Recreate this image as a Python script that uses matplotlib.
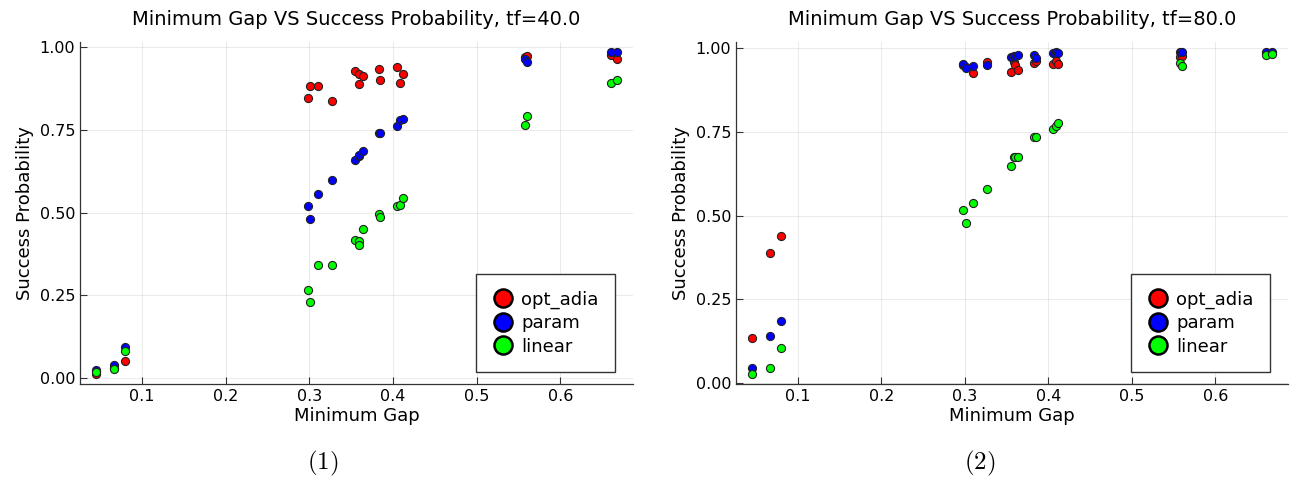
import numpy as np
import matplotlib
matplotlib.use("Agg")
import matplotlib.pyplot as plt
from matplotlib.lines import Line2D

plt.rcParams['mathtext.fontset'] = 'cm'

# minimum gap of each instance (same instances in both runs)
gaps = [0.045, 0.067, 0.080, 0.298, 0.301, 0.310, 0.327, 0.355, 0.359, 0.360,
        0.364, 0.383, 0.385, 0.405, 0.409, 0.412, 0.558, 0.560, 0.661, 0.668]

# tf = 40.0
opt_adia_40 = [0.012, 0.030, 0.052, 0.844, 0.880, 0.880, 0.837, 0.926, 0.917, 0.886,
               0.913, 0.934, 0.900, 0.939, 0.889, 0.917, 0.968, 0.973, 0.974, 0.964]
param_40 = [0.025, 0.039, 0.095, 0.520, 0.480, 0.557, 0.597, 0.657, 0.670, 0.672,
            0.686, 0.740, 0.740, 0.760, 0.779, 0.782, 0.963, 0.953, 0.983, 0.985]
linear_40 = [0.020, 0.028, 0.081, 0.266, 0.229, 0.342, 0.342, 0.416, 0.413, 0.403,
             0.449, 0.494, 0.486, 0.521, 0.523, 0.545, 0.765, 0.790, 0.889, 0.898]

# tf = 80.0
opt_adia_80 = [0.135, 0.387, 0.438, 0.950, 0.945, 0.925, 0.959, 0.930, 0.958, 0.950,
               0.935, 0.955, 0.962, 0.952, 0.962, 0.952, 0.973, 0.978, 0.985, 0.985]
param_80 = [0.044, 0.140, 0.184, 0.953, 0.940, 0.947, 0.949, 0.975, 0.977, 0.977,
            0.980, 0.980, 0.970, 0.985, 0.988, 0.985, 0.990, 0.988, 0.990, 0.990]
linear_80 = [0.025, 0.044, 0.105, 0.517, 0.477, 0.537, 0.579, 0.648, 0.674, 0.674,
             0.674, 0.734, 0.734, 0.759, 0.768, 0.777, 0.955, 0.947, 0.980, 0.983]

labels = ['opt_adia', 'param', 'linear']
colors = ['#ff0000', '#0000ff', '#00ff00']
xticks = [0.1, 0.2, 0.3, 0.4, 0.5, 0.6]
yticks = [0.0, 0.25, 0.5, 0.75, 1.0]

fig = plt.figure(figsize=(12.95, 4.83), dpi=100)
ax1 = fig.add_axes([80/1295, 99/483, 553/1295, 342/483])
ax2 = fig.add_axes([736/1295, 99/483, 552/1295, 342/483])

panels = [(ax1, [opt_adia_40, param_40, linear_40], 'tf=40.0', (-0.017, 1.014)),
          (ax2, [opt_adia_80, param_80, linear_80], 'tf=80.0', (-0.004, 1.019))]

for ax, series, tf, ylim in panels:
    for ys, c in zip(series, colors):
        ax.scatter(gaps, ys, s=34, c=c, edgecolors='#222222', linewidths=0.8, zorder=3)
    ax.set_xlim(0.026, 0.687)
    ax.set_ylim(*ylim)
    ax.set_xticks(xticks)
    ax.set_xticklabels(['0.1', '0.2', '0.3', '0.4', '0.5', '0.6'])
    ax.set_yticks(yticks)
    ax.set_yticklabels(['0.00', '0.25', '0.50', '0.75', '1.00'])
    ax.tick_params(direction='in', length=5, width=0.8, labelsize=11.5, color='#333333')
    ax.grid(True, color='#000000', alpha=0.08, linewidth=0.8)
    ax.set_axisbelow(True)
    for s in ['top', 'right']:
        ax.spines[s].set_visible(False)
    for s in ['left', 'bottom']:
        ax.spines[s].set_color('#333333')
        ax.spines[s].set_linewidth(0.9)
    ax.set_xlabel('Minimum Gap', fontsize=13, labelpad=2)
    ax.set_ylabel('Success Probability', fontsize=13, labelpad=4)
    ax.set_title('Minimum Gap VS Success Probability, ' + tf, fontsize=14, pad=12)

    handles = [Line2D([], [], marker='o', linestyle='', markersize=13,
                      markerfacecolor=c, markeredgecolor='black', markeredgewidth=1.8)
               for c in colors]
    leg = ax.legend(handles, labels, loc='lower right', bbox_to_anchor=(0.967, 0.035),
                    borderaxespad=0, fontsize=13, frameon=True, fancybox=False,
                    framealpha=1, edgecolor='#333333', labelspacing=0.3,
                    handletextpad=0.4, borderpad=0.9, handlelength=1.2)
    leg.get_frame().set_linewidth(1.0)

fig.text(323/1295, 1 - 463/483, r'$(1)$', fontsize=18, ha='center', va='center')
fig.text(980/1295, 1 - 463/483, r'$(2)$', fontsize=18, ha='center', va='center')

fig.savefig('out.png', dpi=100)
